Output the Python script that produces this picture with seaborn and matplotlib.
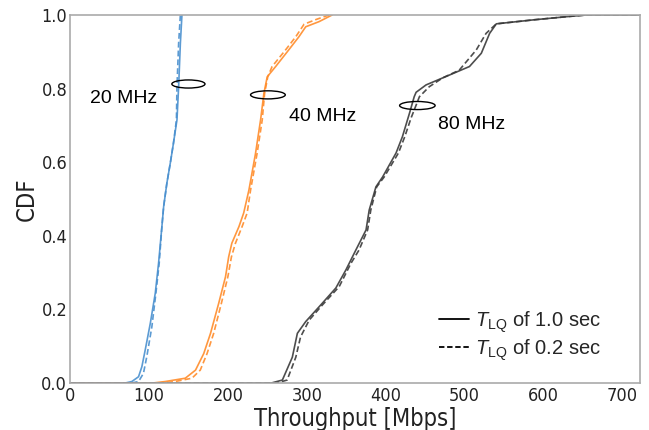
import matplotlib
matplotlib.use("Agg")
import matplotlib.pyplot as plt
from matplotlib.lines import Line2D
from matplotlib.patches import Ellipse
import seaborn as sns

# ---- data ----
blue_solid_x = [0, 70, 78.3, 86.8, 91, 95.3, 101.7, 108, 112.2, 116.4, 118.6, 122.7, 127, 131, 135.5, 137.6, 139.8, 141.8]
blue_solid_y = [0, 0, 0.004, 0.017, 0.044, 0.09, 0.162, 0.244, 0.326, 0.425, 0.479, 0.543, 0.597, 0.651, 0.715, 0.805, 0.923, 1.0]
blue_dash_x = [0, 78, 86.8, 93, 97.3, 103.7, 108.8, 113, 116.4, 118.6, 122.7, 127, 131, 134.8, 135.5, 137.6, 139.8]
blue_dash_y = [0, 0, 0.004, 0.026, 0.072, 0.153, 0.244, 0.326, 0.425, 0.479, 0.543, 0.597, 0.651, 0.715, 0.805, 0.923, 1.0]

orange_solid_x = [0, 105, 120.6, 146, 159, 169.4, 178, 188.4, 197, 201, 205, 214, 220, 226.6, 235, 241.4, 245.6, 249.8, 260.5, 277, 290, 298.6, 315.5, 332]
orange_solid_y = [0, 0, 0.004, 0.013, 0.035, 0.08, 0.135, 0.217, 0.289, 0.343, 0.38, 0.425, 0.462, 0.524, 0.624, 0.715, 0.787, 0.832, 0.86, 0.905, 0.941, 0.968, 0.982, 1.0]
orange_dash_x = [0, 118, 133, 154.5, 165, 173.6, 182, 191.8, 200, 204.5, 209.6, 218, 224.4, 228.7, 237, 243.5, 246.5, 250.5, 256, 273, 286, 296.5, 312, 328]
orange_dash_y = [0, 0, 0.004, 0.013, 0.035, 0.08, 0.135, 0.217, 0.289, 0.343, 0.38, 0.425, 0.462, 0.524, 0.624, 0.715, 0.787, 0.832, 0.86, 0.905, 0.941, 0.975, 0.988, 1.0]

black_solid_x = [0, 255, 269, 281.6, 288, 298.6, 315.5, 336.7, 349.4, 362, 375, 379, 387.5, 396, 413, 421, 430, 436, 438.4, 451, 472, 506, 521, 531.5, 540, 588, 632, 654, 722]
black_solid_y = [0, 0, 0.008, 0.07, 0.135, 0.167, 0.207, 0.258, 0.307, 0.361, 0.416, 0.47, 0.533, 0.56, 0.625, 0.669, 0.733, 0.778, 0.79, 0.81, 0.829, 0.86, 0.896, 0.95, 0.976, 0.987, 0.996, 1.0, 1.0]
black_dash_x = [0, 262, 275, 286, 292, 303, 319.7, 341, 355.8, 366, 377, 381, 388.5, 398, 416, 424, 432, 442.6, 455, 472, 493, 514.6, 527, 540, 588, 632, 654, 722]
black_dash_y = [0, 0, 0.008, 0.07, 0.125, 0.171, 0.212, 0.262, 0.325, 0.361, 0.416, 0.47, 0.533, 0.56, 0.625, 0.669, 0.72, 0.778, 0.805, 0.829, 0.85, 0.905, 0.95, 0.976, 0.987, 0.996, 1.0, 1.0]

band_labels = ["20 MHz", "40 MHz", "80 MHz"]
legend_labels = [r"$T_{\mathrm{LQ}}$ of 1.0 sec", r"$T_{\mathrm{LQ}}$ of 0.2 sec"]
x_ticks = [0, 100, 200, 300, 400, 500, 600, 700]
y_ticks = [0.0, 0.2, 0.4, 0.6, 0.8, 1.0]

# ---- style ----
sns.set_theme(style="white")
plt.rcParams["font.family"] = ["DejaVu Sans"]
plt.rcParams["mathtext.fontset"] = "custom"
plt.rcParams["mathtext.rm"] = "Liberation Sans"
plt.rcParams["mathtext.it"] = "Liberation Sans:italic"

fig = plt.figure(figsize=(6.49, 4.30), dpi=100)
ax = fig.add_axes([70 / 649, (430 - 383) / 430, (640 - 70) / 649, (383 - 15) / 430])

c_blue = "#4a90cf"
c_orange = "#ff8c2a"
c_black = "#3a3a3a"

series = [
    (blue_solid_x, blue_solid_y, c_blue, "-"),
    (blue_dash_x, blue_dash_y, c_blue, "--"),
    (orange_solid_x, orange_solid_y, c_orange, "-"),
    (orange_dash_x, orange_dash_y, c_orange, "--"),
    (black_solid_x, black_solid_y, c_black, "-"),
    (black_dash_x, black_dash_y, c_black, "--"),
]
for xs, ys, col, ls in series:
    sns.lineplot(x=xs, y=ys, ax=ax, color=col, linestyle=ls, linewidth=1.2,
                 estimator=None, sort=False, alpha=0.9, dashes=False)
for ln, (_, _, _, ls) in zip(ax.get_lines(), series):
    ln.set_linestyle(ls)
    if ls == "--":
        ln.set_dashes([3.5, 1.8])

tick_font = dict(family="DejaVu Sans", stretch="condensed")
ax.set_xlim(0, 722)
ax.set_ylim(0, 1.0)
ax.set_xticks(x_ticks)
ax.set_yticks(y_ticks)
ax.set_xticklabels([str(t) for t in x_ticks], fontdict=tick_font)
ax.set_yticklabels([f"{t:.1f}" for t in y_ticks], fontdict=tick_font)
ax.tick_params(axis="both", labelsize=13, colors="#222222", length=0)
ax.tick_params(axis="x", pad=3)
ax.tick_params(axis="y", pad=2)
ax.set_xlabel("Throughput [Mbps]", fontsize=17, color="#222222", labelpad=1,
              family="DejaVu Sans", stretch="condensed")
ax.set_ylabel("CDF", fontsize=17, color="#222222", labelpad=2,
              family="DejaVu Sans", stretch="condensed")
for s in ax.spines.values():
    s.set_color("#aaaaaa")
    s.set_linewidth(1.2)

# ellipses and band labels
for (cx, cy), w in [((150, 0.8125), 42), ((250.7, 0.783), 44), ((440, 0.754), 45)]:
    ax.add_patch(Ellipse((cx, cy), width=w, height=0.022, fill=False,
                         edgecolor="black", linewidth=1.0, zorder=5))
txt_font = dict(fontsize=14, family="Liberation Sans", color="black", va="center", ha="left")
ax.text(25.8, 0.774, band_labels[0], **txt_font)
ax.text(277, 0.725, band_labels[1], **txt_font)
ax.text(466, 0.702, band_labels[2], **txt_font)

handles = [Line2D([0], [0], color="black", linestyle="-", linewidth=1.3),
           Line2D([0], [0], color="black", linestyle=(0, (3, 1.5)), linewidth=1.3)]
leg = ax.legend(handles, legend_labels, loc="lower left", bbox_to_anchor=(0.615, 0.006),
                frameon=False, prop={"family": "Liberation Sans", "size": 14.5},
                handlelength=1.5, handletextpad=0.3, labelspacing=0.12)

fig.savefig("out.png", dpi=100)
